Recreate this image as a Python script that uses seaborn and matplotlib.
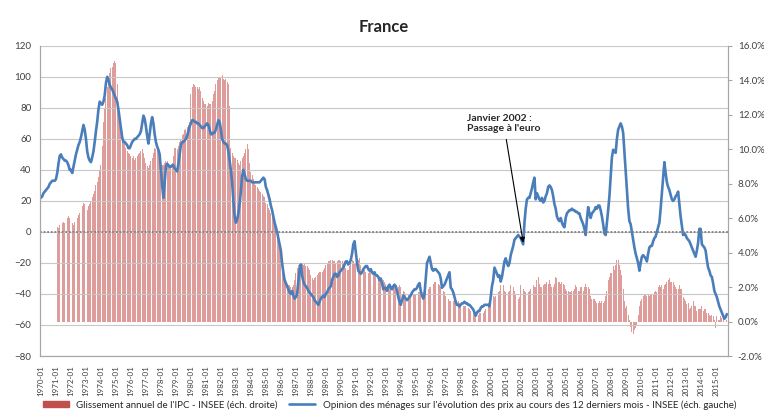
import numpy as np
import pandas as pd
import matplotlib
matplotlib.use("Agg")
import matplotlib.pyplot as plt
from matplotlib.patches import Patch
from matplotlib.lines import Line2D
import seaborn as sns

# monthly data, 1970-01 .. 2015-10
first_year = 1970

# opinion des ménages (solde, échelle gauche), one row per year
opinion_1970s = [
    22, 23, 25, 26, 27, 28, 29, 31, 32, 33, 33, 33,
    34, 38, 44, 49, 50, 48, 47, 46, 46, 45, 43, 40,
    40, 38, 42, 46, 50, 53, 56, 58, 61, 65, 69, 66,
    60, 52, 48, 46, 45, 48, 52, 58, 65, 71, 79, 84,
    83, 82, 84, 88, 96, 100, 98, 95, 93, 92, 90, 88,
    86, 84, 79, 73, 67, 61, 58, 58, 57, 56, 54, 54,
    56, 58, 59, 60, 60, 61, 62, 63, 65, 70, 75, 73,
    68, 62, 57, 63, 70, 74, 70, 63, 58, 55, 53, 50,
    40, 30, 22, 32, 42, 44, 43, 42, 42, 43, 43, 41,
    40, 39, 44, 50, 56, 58, 58, 59, 60, 62, 65, 68,
]
opinion_1980s = [
    70, 72, 72, 71, 71, 70, 70, 69, 68, 67, 67, 68,
    69, 70, 69, 66, 63, 63, 64, 64, 66, 69, 72, 71,
    66, 60, 58, 57, 57, 56, 52, 46, 40, 32, 20, 10,
    6, 8, 12, 18, 26, 36, 40, 37, 34, 33, 33, 33,
    33, 32, 32, 32, 32, 32, 32, 32, 33, 34, 35, 34,
    29, 27, 24, 21, 17, 14, 10, 6, 3, 0, -4, -8,
    -12, -20, -26, -31, -33, -35, -37, -39, -40, -38, -41, -43,
    -42, -40, -32, -24, -21, -28, -32, -34, -35, -36, -38, -39,
    -40, -41, -42, -44, -45, -46, -47, -45, -43, -42, -41, -42,
    -40, -39, -37, -36, -35, -31, -29, -27, -27, -29, -28, -26,
]
opinion_1990s = [
    -25, -24, -23, -21, -19, -19, -21, -20, -18, -14, -8, -6,
    -13, -20, -25, -26, -27, -26, -24, -23, -22, -22, -24, -25,
    -24, -26, -27, -26, -28, -28, -29, -31, -30, -33, -37, -36,
    -36, -38, -35, -34, -36, -37, -35, -34, -35, -38, -42, -45,
    -47, -44, -41, -42, -43, -44, -43, -42, -41, -39, -38, -37,
    -37, -36, -34, -33, -38, -41, -43, -40, -30, -20, -18, -16,
    -20, -24, -25, -24, -24, -25, -26, -27, -30, -36, -35, -34,
    -32, -30, -28, -26, -36, -37, -39, -42, -45, -47, -47, -48,
    -47, -46, -46, -45, -46, -46, -47, -47, -48, -49, -50, -52,
    -54, -52, -51, -51, -49, -48, -48, -47, -47, -47, -47, -48,
]
opinion_2000s = [
    -42, -35, -31, -23, -25, -27, -29, -28, -32, -29, -24, -19,
    -17, -20, -22, -20, -15, -12, -9, -5, -4, -3, -2, -3,
    -4, -6, -8, 6, 15, 21, 22, 22, 25, 28, 32, 35,
    21, 25, 23, 21, 20, 22, 19, 20, 23, 25, 29, 30,
    29, 27, 23, 18, 15, 10, 8, 7, 9, 6, 4, 3,
    9, 12, 13, 14, 14, 15, 14, 14, 13, 13, 12, 12,
    9, 7, 5, 2, -2, 8, 16, 12, 9, 12, 13, 14,
    16, 15, 17, 17, 14, 10, 5, -1, -2, 6, 14, 23,
    35, 48, 53, 52, 51, 60, 66, 68, 70, 68, 64, 52,
    40, 28, 15, 7, 5, 0, -5, -10, -14, -17, -20, -25,
]
opinion_2010s = [
    -20, -16, -15, -16, -17, -19, -14, -10, -9, -9, -6, -4,
    -3, 0, 3, 6, 15, 25, 35, 45, 38, 32, 29, 27,
    24, 21, 20, 21, 23, 24, 26, 18, 10, 4, -2, -1,
    -2, -4, -5, -6, -8, -10, -12, -14, -16, -12, -7, 2,
    2, -8, -9, -10, -12, -18, -23, -25, -28, -29, -33, -38,
    -40, -42, -45, -48, -50, -52, -54, -56, -55, -53,
]

# glissement annuel de l'IPC (%, échelle droite), 1970 not shown
cpi_1970s = [
    np.nan] * 12 + [
    5.3, 5.5, 5.4, 5.6, 5.5, 5.7, 5.8, 5.7, 5.9, 6.0, 6.1, 6.0,
    5.8, 5.7, 5.6, 5.8, 5.9, 6.0, 6.2, 6.3, 6.5, 6.7, 6.9, 6.8,
    6.6, 6.5, 6.7, 6.8, 7.0, 7.2, 7.4, 7.6, 7.9, 8.1, 8.4, 8.8,
    9.1, 10.2, 11.6, 12.4, 13.0, 13.6, 14.0, 14.4, 14.7, 14.8, 15.0, 15.1,
    15.0, 13.8, 12.7, 12.0, 11.5, 11.0, 10.6, 10.3, 10.1, 9.9, 9.8, 9.7,
    9.6, 9.5, 9.6, 9.4, 9.5, 9.6, 9.7, 9.8, 9.9, 10.0, 9.8, 9.5,
    9.2, 9.0, 8.9, 9.1, 9.3, 9.5, 9.8, 10.1, 10.0, 10.1, 9.9, 9.5,
    9.2, 9.1, 9.1, 9.2, 9.3, 9.3, 9.1, 9.0, 8.9, 9.2, 9.6, 10.1,
    10.1, 10.0, 10.2, 10.4, 10.6, 10.8, 10.9, 11.1, 11.2, 11.3, 11.4, 11.6,
]
cpi_1980s = [
    13.2, 13.6, 13.8, 13.7, 13.6, 13.6, 13.5, 13.6, 13.4, 13.0, 12.8, 12.6,
    12.6, 12.5, 12.7, 12.6, 12.6, 12.8, 13.2, 13.4, 13.8, 14.0, 14.2, 14.2,
    14.2, 14.3, 14.1, 14.0, 14.1, 13.9, 13.8, 12.5, 10.1, 9.8, 9.6, 9.5,
    9.5, 9.4, 9.2, 9.1, 9.3, 9.5, 9.6, 9.8, 10.0, 10.3, 10.0, 9.2,
    8.7, 8.5, 8.3, 8.1, 7.9, 7.8, 7.7, 7.6, 7.5, 7.4, 7.3, 7.2,
    6.9, 6.8, 6.6, 6.5, 6.3, 6.2, 6.0, 5.8, 5.6, 5.2, 4.8, 4.7,
    4.0, 3.2, 2.8, 2.4, 2.4, 2.2, 2.1, 2.1, 2.0, 2.0, 2.1, 2.4,
    2.8, 3.1, 3.3, 3.4, 3.3, 3.4, 3.3, 3.4, 3.2, 3.2, 3.1, 3.0,
    2.7, 2.5, 2.4, 2.5, 2.6, 2.7, 2.8, 2.9, 2.9, 2.9, 3.0, 3.1,
    3.3, 3.4, 3.5, 3.5, 3.6, 3.6, 3.5, 3.5, 3.4, 3.5, 3.6, 3.6,
]
cpi_1990s = [
    3.5, 3.5, 3.4, 3.3, 3.1, 3.0, 3.0, 3.2, 3.4, 3.6, 3.5, 3.4,
    3.4, 3.5, 3.6, 3.7, 3.3, 3.1, 3.0, 3.0, 2.9, 2.9, 2.8, 2.9,
    2.9, 2.8, 2.7, 2.7, 2.6, 2.6, 2.6, 2.5, 2.4, 2.4, 2.4, 2.3,
    2.2, 2.1, 2.1, 2.0, 2.0, 2.0, 2.1, 2.0, 2.0, 2.0, 2.0, 2.1,
    2.0, 1.9, 1.8, 1.7, 1.6, 1.7, 1.6, 1.6, 1.6, 1.6, 1.6, 1.6,
    1.6, 1.6, 1.7, 1.7, 1.6, 1.6, 1.7, 1.7, 1.8, 1.8, 1.9, 2.0,
    2.0, 2.1, 2.2, 2.3, 2.3, 2.3, 2.2, 2.1, 2.0, 2.0, 1.8, 1.7,
    1.5, 1.4, 1.3, 1.2, 1.2, 1.2, 1.2, 1.3, 1.2, 1.1, 1.2, 1.1,
    1.0, 0.9, 0.9, 0.9, 0.9, 0.9, 0.8, 0.7, 0.6, 0.5, 0.5, 0.4,
    0.4, 0.3, 0.4, 0.5, 0.5, 0.5, 0.5, 0.6, 0.7, 0.8, 0.9, 1.2,
]
cpi_2000s = [
    1.3, 1.4, 1.5, 1.4, 1.5, 1.6, 1.7, 1.8, 2.1, 2.0, 2.1, 1.8,
    1.7, 1.6, 1.7, 1.8, 2.1, 2.2, 2.0, 1.8, 1.6, 1.4, 1.3, 1.4,
    2.1, 2.0, 1.9, 1.8, 1.7, 1.6, 1.7, 1.8, 1.9, 2.0, 2.1, 2.0,
    2.0, 2.4, 2.6, 2.2, 2.0, 2.0, 2.1, 2.2, 2.2, 2.3, 2.2, 2.4,
    2.2, 2.0, 2.0, 2.2, 2.6, 2.5, 2.3, 2.3, 2.2, 2.3, 2.2, 2.1,
    1.9, 1.8, 1.8, 1.7, 1.7, 1.8, 1.8, 1.9, 2.1, 2.0, 1.8, 1.8,
    2.0, 2.0, 1.8, 2.0, 2.2, 2.0, 2.0, 1.9, 1.5, 1.3, 1.3, 1.3,
    1.2, 1.1, 1.1, 1.2, 1.1, 1.2, 1.1, 1.2, 1.5, 1.8, 2.4, 2.6,
    2.8, 2.8, 3.2, 3.0, 3.3, 3.6, 3.6, 3.3, 3.0, 2.7, 1.9, 1.2,
    0.8, 0.9, 0.4, 0.1, -0.3, -0.6, -0.7, -0.5, -0.4, -0.2, 0.4, 0.9,
]
cpi_2010s = [
    1.2, 1.3, 1.5, 1.6, 1.6, 1.5, 1.6, 1.5, 1.6, 1.6, 1.6, 1.7,
    1.8, 1.7, 2.0, 2.1, 2.0, 2.1, 1.9, 2.1, 2.2, 2.3, 2.4, 2.5,
    2.3, 2.3, 2.3, 2.1, 2.0, 1.9, 1.9, 2.1, 1.9, 1.9, 1.4, 1.3,
    1.2, 1.0, 1.1, 0.7, 0.8, 0.9, 1.2, 0.9, 0.9, 0.6, 0.7, 0.7,
    0.7, 0.9, 0.6, 0.7, 0.7, 0.5, 0.5, 0.4, 0.3, 0.4, 0.3, 0.1,
    -0.4, 0.3, 0.1, 0.1, 0.3, 0.2, 0.2, 0.0, 0.0, 0.1,
]

opinion = opinion_1970s + opinion_1980s + opinion_1990s + opinion_2000s + opinion_2010s
cpi = cpi_1970s + cpi_1980s + cpi_1990s + cpi_2000s + cpi_2010s
n = len(opinion)
years = list(range(first_year, 2016))
tick_labels = ["{}-01".format(y) for y in years]

df = pd.DataFrame({"idx": np.arange(n), "opinion": opinion, "cpi": cpi})

sns.set_style("white")
plt.rcParams["font.family"] = ["Lato", "DejaVu Sans"]

blue = "#4A7EBB"
red = "#C0504D"
bar_col = "#DE9C9B"

fig, ax = plt.subplots(figsize=(7.64, 4.13), dpi=100)
fig.subplots_adjust(left=0.052, right=0.953, top=0.889, bottom=0.138)
ax2 = ax.twinx()

# bars on right scale, line on left scale drawn on top
sns.barplot(data=df.dropna(subset=["cpi"]), x="idx", y="cpi", native_scale=True,
            color=bar_col, saturation=1, width=0.72, errorbar=None, ax=ax2, linewidth=0)
sns.lineplot(data=df, x="idx", y="opinion", color=blue, linewidth=1.9, ax=ax)
ax.set_zorder(ax2.get_zorder() + 1)
ax.patch.set_visible(False)

ax.set_ylim(-80, 120)
ax.set_yticks(range(-80, 121, 20))
ax.yaxis.grid(True, color="#C8C8C8", linewidth=0.8)
ax.axhline(0, color="#7F7F7F", linestyle=(0, (1, 1)), linewidth=1.3)
ax2.set_ylim(-2, 16)
ax2.set_yticks(range(-2, 17, 2))
ax2.set_yticklabels(["{:.1f}%".format(v) for v in range(-2, 17, 2)])

ax.set_xlim(-1, n)
ax.set_xticks(range(0, n, 12))
ax.set_xticklabels(tick_labels, rotation=90)
ax.set_xlabel("")
ax.set_ylabel("")
ax2.set_ylabel("")

for a in (ax, ax2):
    a.tick_params(labelsize=7, colors="#404040", length=3)
    for s in a.spines.values():
        s.set_color("#A6A6A6")
    a.spines["top"].set_visible(False)
ax.tick_params(axis="x", labelsize=5.8, length=3, direction="out", color="#A6A6A6")
ax.tick_params(axis="y", length=0, pad=6)
ax2.tick_params(axis="y", direction="out", color="#A6A6A6", pad=4)

ax.set_title("France", fontsize=12, fontweight="bold", pad=10)

ax.annotate("Janvier 2002 :\nPassage à l'euro", xy=(386, -7), xytext=(341, 76),
            fontsize=7.5, fontweight="bold", ha="left", va="top",
            arrowprops=dict(arrowstyle="-|>", color="black", lw=0.8, shrinkA=2, shrinkB=0))

handles = [Patch(color=red),
           Line2D([0], [0], color=blue, linewidth=1.9)]
labels = ["Glissement annuel de l'IPC - INSEE (éch. droite)",
          "Opinion des ménages sur l'évolution des prix au cours des 12 derniers mois - INSEE (éch. gauche)"]
fig.legend(handles, labels, loc="lower center", bbox_to_anchor=(0.51, 0.0), ncol=2,
           frameon=False, fontsize=7, handlelength=2.6, handleheight=0.5, columnspacing=1.2,
           borderpad=0.25, borderaxespad=0.1)

fig.savefig("out.png", dpi=100)
